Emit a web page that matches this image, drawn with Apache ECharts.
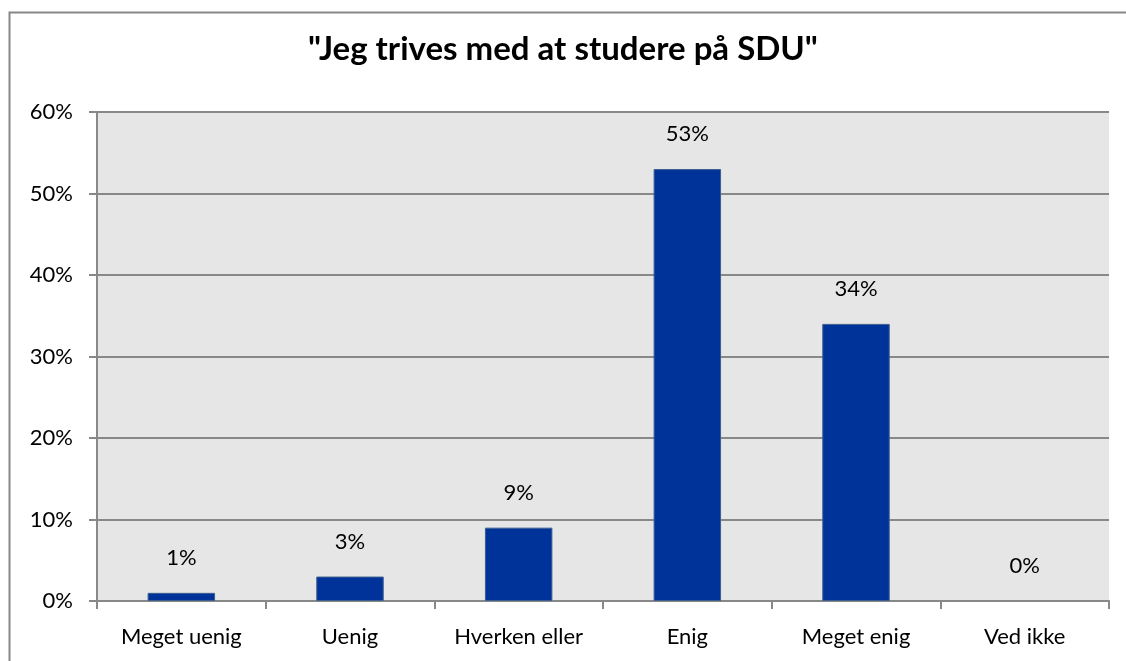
<!DOCTYPE html>
<html lang="da">
<head>
    <meta charset="UTF-8">
    <title>ECharts</title>
    <script src="https://cdn.jsdelivr.net/npm/echarts@6/dist/echarts.min.js"></script>
    <style>
        body { margin: 0; background: #fff; }
    </style>
</head>
<body>
    <div id="main" style="width: 1126px;height:661px;"></div>
    <script type="text/javascript">
    var categories = ['Meget uenig', 'Uenig', 'Hverken eller', 'Enig', 'Meget enig', 'Ved ikke'];
    var values = [1, 3, 9, 53, 34, 0];
    var yTicks = [0, 10, 20, 30, 40, 50, 60];

    var font = 'Lato';
    var myChart = echarts.init(document.getElementById('main'));

    // zero bars get no outline, like the original
    var barData = values.map(function (v) {
        return { value: v, itemStyle: { borderWidth: v === 0 ? 0 : 1 } };
    });

    var option = {
        backgroundColor: '#fff',
        title: {
            text: '"Jeg trives med at studere på SDU"',
            left: 'center',
            top: 28,
            textStyle: { fontFamily: font, fontSize: 33, fontWeight: 'bold', color: '#000' }
        },
        graphic: [{
            type: 'rect',
            shape: { x: 9.5, y: 12.5, width: 1130, height: 660 },
            style: { fill: null, stroke: '#888', lineWidth: 2 },
            silent: true
        }],
        grid: {
            left: 97, right: 17, top: 112, bottom: 60,
            show: true, backgroundColor: '#e6e6e6', borderWidth: 0
        },
        xAxis: {
            type: 'category',
            data: categories,
            axisLine: { lineStyle: { color: '#888', width: 2 } },
            axisTick: { show: true, alignWithLabel: false, length: 8, lineStyle: { color: '#888', width: 2 } },
            axisLabel: { fontFamily: font, fontSize: 22, color: '#000', margin: 25 }
        },
        yAxis: {
            type: 'value',
            min: yTicks[0],
            max: yTicks[yTicks.length - 1],
            interval: 10,
            axisLine: { show: true, lineStyle: { color: '#888', width: 2 } },
            axisTick: { show: true, length: 8, lineStyle: { color: '#888', width: 2 } },
            splitLine: { lineStyle: { color: '#888', width: 2 } },
            axisLabel: { fontFamily: font, fontSize: 22, color: '#000', margin: 24, formatter: '{value}%' }
        },
        series: [{
            type: 'bar',
            data: barData,
            barWidth: '40%',
            itemStyle: { color: '#003399', borderColor: '#3d5f8f', borderWidth: 1 },
            label: {
                show: true,
                position: 'top',
                distance: 24,
                fontFamily: font,
                fontSize: 22,
                color: '#000',
                formatter: '{c}%'
            }
        }]
    };
    myChart.setOption(option);
    </script>
</body>
</html>
